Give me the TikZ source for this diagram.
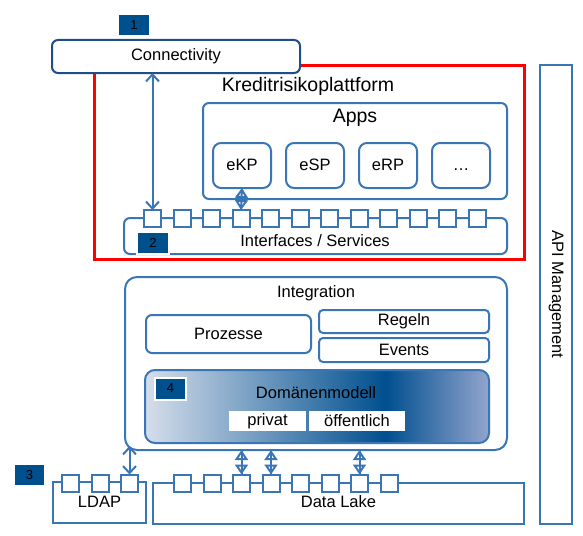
\documentclass[tikz,border=0pt]{standalone}
\usepackage{fontspec}
\setmainfont{Liberation Sans}
\usetikzlibrary{arrows.meta}
\definecolor{linec}{RGB}{58,117,182}
\definecolor{conc}{RGB}{31,78,135}
\definecolor{numc}{RGB}{0,80,142}
\definecolor{doml}{RGB}{214,222,235}
\definecolor{domd}{RGB}{0,79,143}
\definecolor{domr}{RGB}{147,165,205}
\pgfdeclarehorizontalshading{domshade}{100bp}{color(0bp)=(doml); color(25bp)=(doml); color(60bp)=(domd); color(75bp)=(domr); color(100bp)=(domr)}
\begin{document}
\begin{tikzpicture}[x=1pt,y=-1pt,
  box/.style={draw=linec, line width=2pt, fill=white, inner sep=0pt, outer sep=0pt, rounded corners=6pt},
  port/.style={draw=linec, line width=2pt, fill=white, minimum size=17pt, inner sep=0pt, outer sep=0pt},
  numbox/.style={fill=numc, minimum width=30pt, minimum height=20pt, inner sep=0pt, font=\fontsize{13}{15}\selectfont},
  txt/.style={font=\fontsize{16.5}{19}\selectfont, inner sep=0pt},
  title/.style={font=\fontsize{19.5}{22}\selectfont, inner sep=0pt},
  arr/.style={draw=linec, line width=2pt, {Straight Barb[length=7pt,width=13pt]}-{Straight Barb[length=7pt,width=13pt]}},
  fat/.style={draw=linec, line width=2pt, {Triangle[open,length=10pt,width=13pt]}-{Triangle[open,length=10pt,width=13pt]}, postaction={draw,-}}]
\useasboundingbox (0,0) rectangle (583,535);

% Kreditrisikoplattform frame, Connectivity lies on top of it
\draw [red, line width=3pt] (94,65) rectangle (524,259);
\node [title] (krp) at (308,86) {Kreditrisikoplattform};
\node [box, draw=conc, minimum width=248pt, minimum height=33pt] (conn) at (176,56.5) {};
\node [txt] at (conn.center) {Connectivity};
\node [numbox] (n1) at (134,25) {1};

% Apps and the single applications
\node [box, minimum width=304pt, minimum height=96pt] (apps) at (355,151) {};
\node [title] at (355,118) {Apps};
\foreach \n/\t [count=\i] in {ekp/eKP,esp/eSP,erp/eRP,more/…}
	\node [box, rounded corners=8pt, minimum width=58pt, minimum height=45pt] (\n) at ({242+73*(\i-1)},165.5) {};
\foreach \n/\t in {ekp/eKP,esp/eSP,erp/eRP,more/…}
	\node [txt, text height=12pt, text depth=3pt] at (\n.center) {\t};

% Interfaces / Services with its ports
\node [box, minimum width=383pt, minimum height=36pt] (iface) at (315.5,236) {};
\node [txt] at (315,241) {Interfaces / Services};
\foreach \i in {1,...,12}
	\node [port] (is\i) at ({152.5+29.5*(\i-1)},218.5) {};
\node [numbox, draw=white, line width=2pt, minimum width=32pt, minimum height=22pt] (n2) at (153,243) {2};

% API Management
\node [box, rounded corners=0pt, minimum width=32pt, minimum height=459pt] (api) at (556,294.5) {};
\node [txt, rotate=-90] at (api.center) {API Management};

% Integration
\node [box, rounded corners=12pt, minimum width=382pt, minimum height=173pt] (integ) at (316,363.5) {};
\node [txt] at (316,293) {Integration};
\node [box, minimum width=165pt, minimum height=38pt] (proz) at (228.5,334) {};
\node [txt] at (proz.center) {Prozesse};
\node [box, rounded corners=4pt, minimum width=170pt, minimum height=23pt] (regeln) at (404,321.5) {};
\node [txt] at (regeln.center) {Regeln};
\node [box, rounded corners=4pt, minimum width=170pt, minimum height=24pt] (events) at (404,350) {};
\node [txt] at (events.center) {Events};

% Domaenenmodell with its gradient
\node [box, rounded corners=10pt, shading=domshade, minimum width=344pt, minimum height=73pt] (dom) at (317,406.5) {};
\node [txt] at (316,393) {Domänenmodell};
\node [fill=white, inner sep=0pt, minimum width=77pt, minimum height=20pt] (priv) at (267.5,421) {};
\node [txt] at (priv.center) {privat};
\node [fill=white, inner sep=0pt, minimum width=96pt, minimum height=20pt] (oeff) at (357,421) {};
\node [txt] at (oeff.center) {öffentlich};
\node [numbox, draw=white, line width=2pt, minimum width=31pt, minimum height=22pt] (n4) at (170.5,388.5) {4};

% LDAP and Data Lake with their ports
\node [numbox, minimum width=29pt] (n3) at (29.5,475) {3};
\node [box, rounded corners=0pt, minimum width=93pt, minimum height=41pt] (ldap) at (99.5,502.5) {};
\node [txt] at (99.5,502) {LDAP};
\foreach \i in {1,2,3}
	\node [port] (ds\i) at ({70.5+29.5*(\i-1)},483) {};
\node [box, rounded corners=0pt, minimum width=371pt, minimum height=41pt] (lake) at (338.5,503.5) {};
\node [txt] at (338.5,502) {Data Lake};
\foreach \i in {1,...,8}
	\node [port] (ls\i) at ({182.5+29.5*(\i-1)},483) {};

% Connections between the layers
\draw [arr] (conn.south -| is1) -- (is1.north);
\draw [fat] (ekp.south) -- (is4.north);
\draw [arr] ([yshift=4pt]integ.south -| ds3) -- (ds3.north);
\foreach \i in {3,4,7}
	\draw [fat] (integ.south -| ls\i) -- (ls\i.north);

\end{tikzpicture}
\end{document}
